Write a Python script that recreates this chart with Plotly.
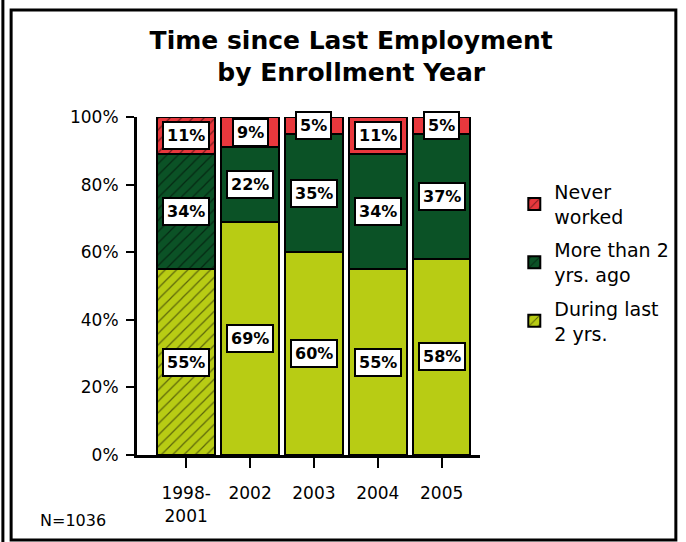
import plotly.graph_objects as go

years = ["1998-<br>2001", "2002", "2003", "2004", "2005"]
during_last_2 = [55, 69, 60, 55, 58]
more_than_2 = [34, 22, 35, 34, 37]
never_worked = [11, 9, 5, 11, 5]

COLORS = {"during": "#B8CC14", "more": "#0B5226", "never": "#E8383D"}
FONT = "DejaVu Sans"

# only the first bar (1998-2001) is hatched
hatch = ["/", "", "", "", ""]

series = [
    ("During last<br>2 yrs.", during_last_2, COLORS["during"], 3),
    ("More than 2<br>yrs. ago", more_than_2, COLORS["more"], 2),
    ("Never<br>worked", never_worked, COLORS["never"], 1),
]

fig = go.Figure()
for i, (name, vals, col, rank) in enumerate(series):
    fig.add_trace(go.Bar(
        name=name, x=years, y=vals, legendgroup=str(i), legendrank=rank,
        marker=dict(color=col, line=dict(color="black", width=2),
                    pattern=dict(shape=hatch, fgcolor="black", size=8,
                                 solidity=0.15)),
    ))

# value labels in white boxes at segment middles
annotations = []
base = [0] * len(years)
for name, vals, col, rank in series:
    for j, v in enumerate(vals):
        annotations.append(dict(
            x=j, y=base[j] + v / 2, text=f"<b>{v}%</b>",
            showarrow=False, bgcolor="white", bordercolor="black",
            borderwidth=2, borderpad=3,
            font=dict(family=FONT, size=16, color="black"),
        ))
        base[j] += v

annotations.append(dict(
    x=-0.289, y=-0.195, xref="paper", yref="paper", text="N=1036",
    showarrow=False, xanchor="left", yanchor="middle",
    font=dict(family=FONT, size=16, color="black"),
))

fig.update_layout(
    width=686, height=542,
    margin=dict(l=137, r=206, t=117, b=87),
    paper_bgcolor="white", plot_bgcolor="white",
    barmode="stack", bargap=0.1,
    font=dict(family=FONT, size=17, color="black"),
    title=dict(text="<b>Time since Last Employment<br>by Enrollment Year</b>",
               x=0.512, xanchor="center", y=0.91, yanchor="top",
               font=dict(family=FONT, size=25, color="black")),
    xaxis=dict(range=[-0.77, 4.6], showline=True, linecolor="black",
               linewidth=3, ticks="outside", ticklen=10, tickwidth=2,
               tickcolor="black", showgrid=False, ticklabelstandoff=11),
    yaxis=dict(range=[0, 100], tickvals=[0, 20, 40, 60, 80, 100],
               ticktext=["0%", "20%", "40%", "60%", "80%", "100%"],
               showline=True, linecolor="black", linewidth=3,
               ticks="outside", ticklen=8, tickwidth=2, tickcolor="black",
               showgrid=False, zeroline=False, ticklabelstandoff=4),
    legend=dict(x=1.1, y=0.835, xanchor="left", yanchor="top",
                traceorder="grouped", tracegroupgap=6, itemwidth=30,
                font=dict(family=FONT, size=19, color="black")),
    annotations=annotations,
    shapes=[
        dict(type="rect", xref="paper", yref="paper", x0=-0.367, x1=1.571,
             y0=-0.2515, y1=1.3166, line=dict(color="black", width=3)),
        dict(type="line", xref="paper", yref="paper", x0=-0.391, x1=-0.391,
             y0=-0.27, y1=1.35, line=dict(color="black", width=3)),
    ],
)

fig.write_html("out.html", config={"displayModeBar": False},
               post_script="document.body.style.margin='0';")
